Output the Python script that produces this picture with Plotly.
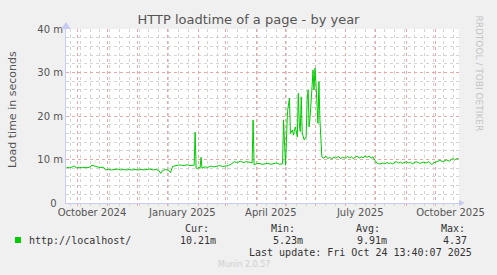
import plotly.graph_objects as go

# ---- data (load time in milliseconds) ----
dates = [
    "2024-09-20", "2024-09-23", "2024-09-26", "2024-09-28", "2024-09-30", "2024-10-03",
    "2024-10-06", "2024-10-09", "2024-10-12", "2024-10-14", "2024-10-16", "2024-10-18",
    "2024-10-20", "2024-10-23", "2024-10-26", "2024-10-28", "2024-10-30", "2024-11-02",
    "2024-11-05", "2024-11-08", "2024-11-11", "2024-11-14", "2024-11-17", "2024-11-20",
    "2024-11-23", "2024-11-26", "2024-11-29", "2024-12-02", "2024-12-05", "2024-12-08",
    "2024-12-11", "2024-12-14", "2024-12-17", "2024-12-20", "2024-12-23", "2024-12-25",
    "2024-12-27", "2024-12-30", "2025-01-02", "2025-01-04", "2025-01-06", "2025-01-09",
    "2025-01-12", "2025-01-15", "2025-01-18", "2025-01-21", "2025-01-24", "2025-01-27",
    "2025-01-28", "2025-01-29", "2025-01-30", "2025-01-31", "2025-02-02", "2025-02-03",
    "2025-02-04", "2025-02-05", "2025-02-08", "2025-02-11", "2025-02-14", "2025-02-17",
    "2025-02-20", "2025-02-23", "2025-02-26", "2025-03-01", "2025-03-04", "2025-03-07",
    "2025-03-10", "2025-03-13", "2025-03-16", "2025-03-19", "2025-03-22", "2025-03-25",
    "2025-03-28", "2025-03-29", "2025-03-30", "2025-04-01", "2025-04-04", "2025-04-07",
    "2025-04-10", "2025-04-13", "2025-04-16", "2025-04-19", "2025-04-22", "2025-04-25",
    "2025-04-27", "2025-04-28", "2025-04-29", "2025-05-01", "2025-05-03", "2025-05-05",
    "2025-05-06", "2025-05-08", "2025-05-09", "2025-05-11", "2025-05-13", "2025-05-14",
    "2025-05-15", "2025-05-16", "2025-05-17", "2025-05-18", "2025-05-20", "2025-05-22",
    "2025-05-23", "2025-05-24", "2025-05-25", "2025-05-26", "2025-05-28", "2025-05-29",
    "2025-05-30", "2025-05-31", "2025-06-01", "2025-06-02", "2025-06-03", "2025-06-04",
    "2025-06-05", "2025-06-07", "2025-06-09", "2025-06-11", "2025-06-13", "2025-06-15",
    "2025-06-17", "2025-06-19", "2025-06-21", "2025-06-24", "2025-06-26", "2025-06-28",
    "2025-07-01", "2025-07-03", "2025-07-05", "2025-07-07", "2025-07-09", "2025-07-11",
    "2025-07-13", "2025-07-15", "2025-07-17", "2025-07-19", "2025-07-21", "2025-07-23",
    "2025-07-25", "2025-07-27", "2025-07-29", "2025-07-31", "2025-08-02", "2025-08-04",
    "2025-08-06", "2025-08-08", "2025-08-10", "2025-08-12", "2025-08-14", "2025-08-16",
    "2025-08-18", "2025-08-20", "2025-08-22", "2025-08-24", "2025-08-26", "2025-08-28",
    "2025-08-30", "2025-09-01", "2025-09-03", "2025-09-05", "2025-09-07", "2025-09-09",
    "2025-09-11", "2025-09-13", "2025-09-15", "2025-09-18", "2025-09-21", "2025-09-24",
    "2025-09-27", "2025-09-29", "2025-10-01", "2025-10-05", "2025-10-08", "2025-10-12",
    "2025-10-15", "2025-10-18", "2025-10-20", "2025-10-22", "2025-10-24",
]
load_ms = [
    8.2, 8.1, 8.3, 8.5, 8.1, 8.2,
    8.1, 8.2, 8.1, 8.3, 8.7, 8.5,
    8.4, 8.2, 8.2, 8.2, 7.6, 7.7,
    7.6, 7.7, 7.8, 7.6, 7.7, 7.6,
    7.7, 7.6, 7.7, 7.6, 7.7, 7.6,
    7.7, 7.8, 7.6, 7.7, 7.5, 6.8,
    7.5, 7.7, 7.5, 7.0, 8.4, 8.6,
    8.7, 8.7, 8.6, 8.8, 8.6, 8.7,
    8.6, 16.3, 8.0, 7.9, 8.2, 8.0,
    10.5, 8.0, 8.3, 8.2, 8.5, 8.3,
    8.4, 8.6, 8.4, 8.5, 8.6, 9.0,
    9.5, 9.3, 9.6, 9.3, 9.5, 9.4,
    9.2, 19.1, 8.8, 9.0, 9.1, 8.9,
    9.0, 9.1, 8.9, 9.0, 9.2, 8.9,
    8.9, 9.0, 19.1, 8.7, 21.0, 24.1,
    16.0, 16.8, 15.6, 17.5, 15.2, 25.2,
    18.4, 16.4, 24.4, 16.1, 14.5, 15.2,
    23.7, 26.0, 17.5, 19.8, 26.7, 30.6,
    26.0, 31.0, 27.5, 20.6, 18.3, 27.9,
    19.1, 10.6, 10.3, 10.8, 10.2, 10.5,
    10.1, 10.6, 10.3, 10.7, 10.2, 10.5,
    10.3, 10.7, 10.4, 10.6, 10.2, 10.5,
    10.8, 10.3, 10.6, 10.4, 10.8, 10.5,
    10.8, 10.3, 10.6, 9.8, 9.2, 9.0,
    9.0, 9.2, 9.0, 9.3, 9.1, 9.2,
    9.0, 9.3, 9.5, 9.2, 9.4, 9.1,
    9.3, 9.5, 9.2, 9.4, 9.0, 9.2,
    9.5, 9.3, 9.1, 9.4, 9.2, 9.5,
    8.8, 9.3, 9.4, 9.8, 9.5, 9.9,
    9.6, 10.3, 9.9, 10.2, 10.2,
]

series_name = "http://localhost/"
y_tick_vals = [0, 10, 20, 30, 40]
y_tick_text = ["0\u00a0\u00a0", "10 m", "20 m", "30 m", "40 m"]
month_starts = [
    "2024-10-01", "2024-11-01", "2024-12-01", "2025-01-01", "2025-02-01", "2025-03-01",
    "2025-04-01", "2025-05-01", "2025-06-01", "2025-07-01", "2025-08-01", "2025-09-01",
    "2025-10-01",
]
label_dates = ["2024-10-16", "2025-01-16", "2025-04-16", "2025-07-16", "2025-10-16"]
label_text = ["October 2024", "January 2025", "April 2025", "July 2025", "October 2025"]
x_range = ["2024-09-19 13:40:07", "2025-10-24 13:40:07"]

stat_labels = ["Cur:", "Min:", "Avg:", "Max:"]
stat_values = ["10.21m", "5.23m", "9.91m", "4.37"]
last_update = "Last update: Fri Oct 24 13:40:07 2025"

GREEN = "#00CC00"
TXT = "#555555"
MAJOR = "#EBA6A6"
MINOR = "#D4D4D4"
AXIS = "#C8CCF2"
MONO = "DejaVu Sans Mono"

fig = go.Figure()
fig.add_trace(go.Scatter(
    x=dates, y=load_ms, mode="lines", name=series_name,
    line=dict(color=GREEN, width=1), showlegend=False, xaxis="x", yaxis="y",
))
# invisible trace on the label axis so it renders
fig.add_trace(go.Scatter(x=x_range, y=[None, None], xaxis="x2", yaxis="y",
                         showlegend=False, hoverinfo="skip"))

fig.update_layout(
    width=497, height=275,
    margin=dict(l=66, r=30, t=29, b=72),
    paper_bgcolor="#F0F0F0", plot_bgcolor="#FFFFFF",
    font=dict(family="DejaVu Sans", color=TXT, size=10),
    title=dict(text="HTTP loadtime of a page - by year", x=0.5, xanchor="center",
               y=1 - 19 / 275, yanchor="middle", font=dict(size=13, color=TXT)),
    xaxis=dict(
        type="date", range=x_range, tickmode="array", tickvals=month_starts,
        showticklabels=False, showgrid=True, gridcolor=MAJOR, griddash="dot", gridwidth=1,
        ticks="outside", ticklen=2, tickcolor=MAJOR,
        showline=True, linecolor=AXIS, linewidth=1, zeroline=False,
        minor=dict(tick0="1970-01-01", dtick=864000000, showgrid=True,
                   gridcolor=MINOR, griddash="dot", gridwidth=1,
                   ticks="outside", ticklen=2, tickcolor=MINOR),
        layer="below traces",
    ),
    xaxis2=dict(
        type="date", range=x_range, overlaying="x", side="bottom",
        tickmode="array", tickvals=label_dates, ticktext=label_text,
        showgrid=False, ticks="", showline=False, zeroline=False,
        tickfont=dict(size=10, color=TXT), ticklabelstandoff=2,
    ),
    yaxis=dict(
        range=[0, 40], tickmode="array", tickvals=y_tick_vals, ticktext=y_tick_text,
        showgrid=True, gridcolor=MAJOR, griddash="dot", gridwidth=1,
        ticks="", showline=True, linecolor=AXIS, linewidth=1, zeroline=False,
        minor=dict(dtick=2, showgrid=True, gridcolor=MINOR, griddash="dot", gridwidth=1),
        tickfont=dict(size=10, color=TXT),
        layer="below traces",
    ),
    showlegend=False,
)

# axis arrows
fig.add_shape(type="path", xref="paper", yref="paper",
              path="M -0.0125 1.0 L 0.0125 1.0 L 0 1.04 Z",
              fillcolor=AXIS, line=dict(color=AXIS, width=0))
fig.add_shape(type="path", xref="paper", yref="paper",
              path="M 1.0 -0.018 L 1.0 0.018 L 1.015 0 Z",
              fillcolor=AXIS, line=dict(color=AXIS, width=0))


def px(x):
    return (x - 66) / 401


def py(y):
    return (203 - y) / 174


# y axis title
fig.add_annotation(text="Load time in seconds", xref="paper", yref="paper",
                   x=px(11), y=py(110), xanchor="center", yanchor="middle",
                   textangle=-90, showarrow=False,
                   font=dict(size=11, color=TXT, family="DejaVu Sans"))

# right-side watermark
fig.add_annotation(text="RRDTOOL / TOBI OETIKER", xref="paper", yref="paper",
                   x=px(487), y=py(13), xanchor="center", yanchor="top",
                   textangle=90, showarrow=False,
                   font=dict(size=9, color="#C4C4C4", family="DejaVu Sans"))

# legend area
fig.add_shape(type="rect", xref="paper", yref="paper",
              x0=px(14), x1=px(20), y0=py(243), y1=py(237),
              fillcolor=GREEN, line=dict(width=0))
fig.add_annotation(text=series_name, xref="paper", yref="paper", x=px(26), y=py(240),
                   xanchor="left", yanchor="middle", showarrow=False,
                   font=dict(family=MONO, size=10, color="#333333"))

stat_label_x = [185, 273, 360, 447]
stat_value_right = [221, 310, 396, 477]
for lx, lab, vr, val in zip(stat_label_x, stat_labels, stat_value_right, stat_values):
    fig.add_annotation(text=lab, xref="paper", yref="paper", x=px(lx), y=py(228),
                       xanchor="left", yanchor="middle", showarrow=False,
                       font=dict(family=MONO, size=10, color="#333333"))
    fig.add_annotation(text=val, xref="paper", yref="paper", x=px(vr), y=py(240),
                       xanchor="right", yanchor="middle", showarrow=False,
                       font=dict(family=MONO, size=10, color="#333333"))

fig.add_annotation(text=last_update, xref="paper", yref="paper", x=px(482), y=py(252),
                   xanchor="right", yanchor="middle", showarrow=False,
                   font=dict(family=MONO, size=10, color="#333333"))
fig.add_annotation(text="Munin 2.0.57", xref="paper", yref="paper", x=px(248), y=py(264),
                   xanchor="center", yanchor="middle", showarrow=False,
                   font=dict(family="DejaVu Sans", size=8, color="#CFCFCF"))

fig.write_html("out.html")
